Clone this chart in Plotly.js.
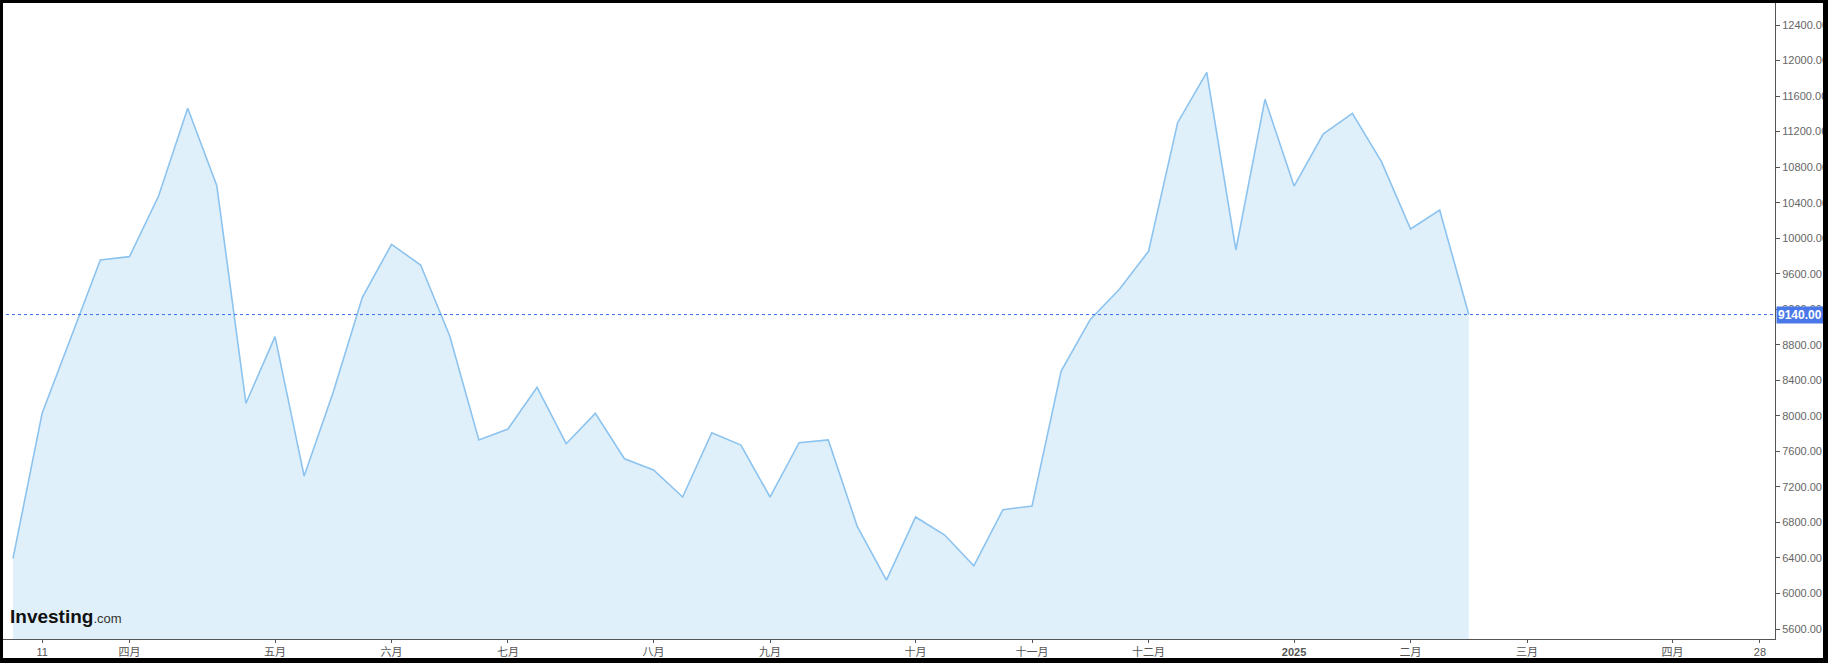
<!DOCTYPE html>
<html>
<head>
<meta charset="utf-8">
<script src="https://cdn.plot.ly/plotly-3.0.1.min.js"></script>
<style>
  html, body { margin: 0; padding: 0; background: #fff; }
  #wrap { position: relative; width: 1828px; height: 663px; overflow: hidden; }
  #chart { position: absolute; left: 0; top: 0; width: 1828px; height: 663px; }
  #frame { position: absolute; left: 0; top: 0; width: 1828px; height: 663px; box-sizing: border-box;
           border-left: 3px solid #000; border-top: 3px solid #000; border-right: 5px solid #000; border-bottom: 5px solid #000;
           pointer-events: none; }
</style>
</head>
<body>
<div id="wrap"><div id="chart"></div><div id="frame"></div></div>
<script>
// Weekly dates (Monday of each week)
const weeks = [
  '2024-03-04','2024-03-11','2024-03-18','2024-03-25',
  '2024-04-01','2024-04-08','2024-04-15','2024-04-22','2024-04-29',
  '2024-05-06','2024-05-13','2024-05-20','2024-05-27',
  '2024-06-03','2024-06-10','2024-06-17','2024-06-24',
  '2024-07-01','2024-07-08','2024-07-15','2024-07-22','2024-07-29',
  '2024-08-05','2024-08-12','2024-08-19','2024-08-26',
  '2024-09-02','2024-09-09','2024-09-16','2024-09-23','2024-09-30',
  '2024-10-07','2024-10-14','2024-10-21','2024-10-28',
  '2024-11-04','2024-11-11','2024-11-18','2024-11-25',
  '2024-12-02','2024-12-09','2024-12-16','2024-12-23','2024-12-30',
  '2025-01-06','2025-01-13','2025-01-20','2025-01-27',
  '2025-02-03','2025-02-10','2025-02-17'
];
// Weekly closing values
const closes = [
  6396, 8028, 8891, 9754,
  9792, 10475, 11462, 10591, 8141,
  8891, 7322, 8268, 9334,
  9931, 9698, 8899, 7728,
  7851, 8321, 7686, 8028, 7517,
  7390, 7086, 7810, 7671,
  7086, 7697, 7728, 6752, 6151,
  6861, 6658, 6312, 6943,
  6985, 8504, 9086, 9424,
  9852, 11300, 11867, 9867, 11563,
  10587, 11173, 11406, 10861,
  10103, 10317, 9140
];
// X-axis tick dates and labels
const tickDates = ['2024-03-11','2024-04-01','2024-05-06','2024-06-03','2024-07-01','2024-08-05','2024-09-02',
                   '2024-10-07','2024-11-04','2024-12-02','2025-01-06','2025-02-03','2025-03-03','2025-04-07','2025-04-28'];
const tickLabels = ['11','四月','五月','六月','七月','八月','九月','十月','十一月','十二月','<b>2025</b>','二月','三月','四月','28'];
// Y-axis ticks
const yTicks = [5600,6000,6400,6800,7200,7600,8000,8400,8800,9200,9600,10000,10400,10800,11200,11600,12000,12400];
const yTickLabels = yTicks.map(v => v.toFixed(2));

const DAY = 864e5;
const t0 = Date.parse(weeks[0] + 'T00:00:00Z');
const toStr = ms => new Date(ms).toISOString().replace('T',' ').slice(0,19);
const xRange = [toStr(t0 - 0.4465*7*DAY), toStr(t0 + 60.517*7*DAY)];
const last = closes[closes.length-1];

const trace = {
  x: weeks, y: closes, type: 'scatter', mode: 'lines',
  line: { color: '#8cc3ef', width: 1.6 },
  fill: 'tozeroy', fillcolor: '#e0f0fa',
  hoverinfo: 'x+y'
};

const layout = {
  width: 1828, height: 663,
  margin: { l: 0, r: 53, t: 0, b: 24 },
  paper_bgcolor: '#ffffff', plot_bgcolor: '#ffffff',
  showlegend: false,
  font: { family: '"Liberation Sans", Arial, sans-serif', size: 11, color: '#555' },
  xaxis: {
    type: 'date', range: xRange, showgrid: false, zeroline: false,
    showline: true, linecolor: '#555', linewidth: 1,
    ticks: 'outside', ticklen: 3, tickcolor: '#555', tickwidth: 1,
    tickmode: 'array', tickvals: tickDates, ticktext: tickLabels,
    tickfont: { family: '"Liberation Sans", "Noto Sans CJK SC", Arial, sans-serif', size: 11, color: '#555' }
  },
  yaxis: {
    side: 'right', range: [5487.4, 12681.5], showgrid: false, zeroline: false,
    showline: true, linecolor: '#555', linewidth: 1,
    ticks: 'outside', ticklen: 4, tickcolor: '#555', tickwidth: 1,
    tickmode: 'array', tickvals: yTicks, ticktext: yTickLabels,
    tickfont: { family: '"Liberation Sans", Arial, sans-serif', size: 11, color: '#666' }
  },
  shapes: [
    { type: 'line', xref: 'paper', x0: 0, x1: 1, yref: 'y', y0: last, y1: last,
      line: { color: '#3a6cec', width: 1, dash: 'dot' } }
  ],
  annotations: [
    { xref: 'paper', x: 1, xanchor: 'left', yref: 'y', y: last, yanchor: 'middle',
      text: '<b>' + last.toFixed(2) + '</b>', showarrow: false,
      bgcolor: '#4a78e8', borderpad: 1, xshift: 1,
      font: { family: '"Liberation Sans", Arial, sans-serif', size: 12, color: '#ffffff' } },
    { xref: 'paper', x: 8/1775, xanchor: 'left', yref: 'paper', y: 0.035, yanchor: 'middle',
      text: '<b>Investing</b><span style="font-size:13px;color:#333">.com</span>', showarrow: false,
      font: { family: '"Liberation Sans", Arial, sans-serif', size: 19, color: '#111' } }
  ]
};

Plotly.newPlot('chart', [trace], layout, { staticPlot: true, displayModeBar: false });
</script>
</body>
</html>
